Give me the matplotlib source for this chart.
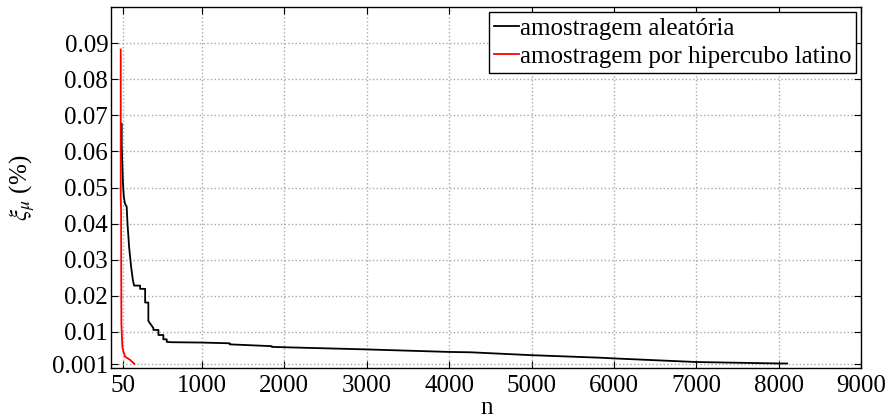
import matplotlib
matplotlib.use("Agg")
import matplotlib.pyplot as plt

plt.rcParams['font.family'] = ['Liberation Serif', 'DejaVu Serif']
plt.rcParams['mathtext.fontset'] = 'stix'

# Data
n_random = [30, 30, 35, 45, 55, 70, 90, 100, 120, 145, 165, 180, 213, 253, 253, 314, 314,
            353, 353, 414, 414, 475, 475, 535, 535, 576, 576, 620, 1000, 1340, 1340,
            1850, 1850, 2000, 3000, 4000, 4260, 5000, 5830, 6000, 7000, 8000, 8100]
xi_random = [0.0677, 0.0620, 0.0577, 0.0513, 0.0475, 0.0455, 0.0447, 0.0400, 0.0334, 0.0278,
             0.0244, 0.0228, 0.0228, 0.0228, 0.0219, 0.0219, 0.0181, 0.0181, 0.0130, 0.0110,
             0.0105, 0.0105, 0.0091, 0.0091, 0.0079, 0.0079, 0.0072, 0.0071, 0.0070, 0.0068,
             0.0065, 0.0060, 0.0058, 0.0057, 0.0051, 0.0044, 0.0043, 0.0035, 0.0028, 0.0026,
             0.0016, 0.0012, 0.0012]

n_lhs = [18, 18, 22, 26, 38, 50, 71, 131, 183]
xi_lhs = [0.0883, 0.0470, 0.0440, 0.0122, 0.0058, 0.0045, 0.0031, 0.0022, 0.0011]

x_ticks = [50, 1000, 2000, 3000, 4000, 5000, 6000, 7000, 8000, 9000]
y_ticks = [0.001, 0.01, 0.02, 0.03, 0.04, 0.05, 0.06, 0.07, 0.08, 0.09]
y_ticklabels = ['0.001', '0.01', '0.02', '0.03', '0.04', '0.05', '0.06', '0.07', '0.08', '0.09']

fig = plt.figure(figsize=(8.88, 4.17), dpi=100)
ax = fig.add_axes([0.125, 0.118, 0.845, 0.8645])

ax.plot(n_random, xi_random, color='black', lw=1.3, label='amostragem aleatória')
ax.plot(n_lhs, xi_lhs, color='red', lw=1.3, label='amostragem por hipercubo latino')

ax.set_xlim(-100, 9000)
ax.set_ylim(0, 0.1)
ax.set_xticks(x_ticks)
ax.set_xticklabels([str(t) for t in x_ticks])
ax.set_yticks(y_ticks)
ax.set_yticklabels(y_ticklabels)
ax.tick_params(direction='in', top=True, right=True, length=5, width=0.8, labelsize=18)
ax.tick_params(axis='x', pad=5)
ax.tick_params(axis='y', pad=2)
ax.grid(True, linestyle=':', color='#aaaaaa', linewidth=1)
for s in ax.spines.values():
    s.set_linewidth(1.0)

ax.set_xlabel('n', fontsize=18, labelpad=0)
ax.set_ylabel(r'$\xi_\mu$ (%)', fontsize=18, labelpad=11)

leg = ax.legend(loc='upper right', fontsize=18, frameon=True, fancybox=False,
                edgecolor='black', framealpha=1, handlelength=1.0, handletextpad=0.05,
                borderpad=0.2, labelspacing=0.22, borderaxespad=0.2)
leg.get_frame().set_linewidth(1.0)

fig.savefig('out.png', dpi=100)
